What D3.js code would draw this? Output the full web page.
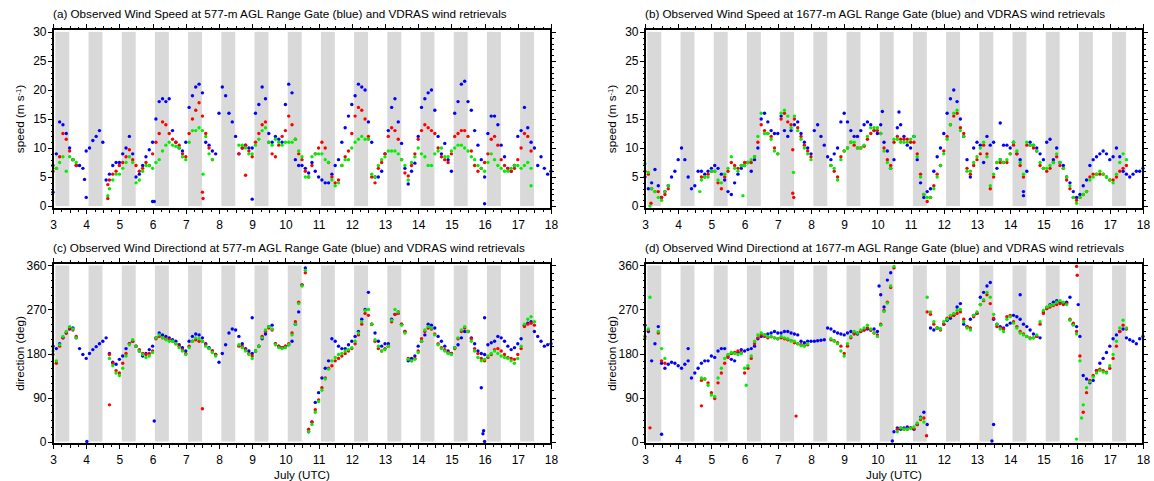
<!DOCTYPE html>
<meta charset="utf-8">
<style>

body {
  margin: 0;
  background: #fff;
}

svg {
  display: block;
  font-family: "Liberation Sans", Arial, sans-serif;
}

.axis path {
  display: none;
}

.axis line {
  stroke: #000;
  shape-rendering: crispEdges;
}

.axis text {
  font-size: 12px;
  fill: #000;
}

.frame {
  fill: none;
  stroke: #000;
  stroke-width: 1.2;
  shape-rendering: crispEdges;
}

.night {
  fill: #d9d9d9;
}

.title, .label {
  font-size: 11.7px;
  fill: #000;
}

</style>
<body>
<svg width="1154" height="481"></svg>

<script src="https://d3js.org/d3.v7.min.js"></script>
<script>

// time grid of the series: one value every 0.1 day from 3.0 to 18.0 July
var t0 = 3, dt = 0.1;

// night shading: fraction of each day that is shaded
var nightDays = [3, 4, 5, 6, 7, 8, 9, 10, 11, 12, 13, 14, 15, 16, 17];
var nightFrom = 0.07, nightTo = 0.49;

var dayTicks = [3, 4, 5, 6, 7, 8, 9, 10, 11, 12, 13, 14, 15, 16, 17, 18];
var speedTicks = [0, 5, 10, 15, 20, 25, 30];
var dirTicks = [0, 90, 180, 270, 360];

var _ = null;

// (a) speed at 577 m
var speedA_blue = [
  7, 9, 14.5, 14, 12.5, 10, 8, 7, 7, 6.5,
  9.5, 10, 11.3, 12, 13, 11, 4.5, 5.5, 7, 7.5,
  7.5, 9, 10, 12, 9, 5, 5.5, 7, 8.5, 9.7,
  11, 15, 18, 18.5, 18, 18.5, 13, 11, 10, 9.5,
  11, 17, 19, 20.5, 21, 19.5, 11, 10.5, 9.5, 9,
  16, 20.5, 19, 16, 14.5, 12, 9, 10, 10.5, 10,
  10, 16, 17.5, 20.5, 18.5, 12.5, 11, 12, 11.5, 11,
  17.5, 21, 19.5, 8, 7, 7, 6.5, 5.7, 7.5, 6,
  5, 4.5, 4, 4, 5.5, 7, 8, 11, 13.5, 15.5,
  17.5, 19, 21, 20.5, 20, 14.5, 11, 5, 5, 6,
  9, 13, 17, 18.5, 14.5, 10.8, 6.5, 3.8, 6, 7.4,
  12, 17, 18.5, 19.5, 20, 16.5, 12, 9, 10.8, 8,
  6, 16, 18, 21, 21.5, 18, 16.5, 13, 10.5, 8,
  5, 12.5, 15.5, 15.5, 14, 10.5, 8.5, 6.5, 6, 7,
  12, 13, 17, 13.5, 11, 10, 7, 8.5, 6.5, 5.5,
  6
];
var speedA_red = [
  6, 6.5, 8.5, 12.5, 11.5, 9.5, 8, 7, _, _,
  _, _, _, _, _, _, _, 4.5, 5.5, 6,
  7, 7.5, 8.5, 9.7, 8, 7, 6, 6.5, 7.5, 7,
  9, 11, 12.5, 14.5, 14, 12.5, 11.5, 11, 10.5, 9,
  8.5, 12.5, 15, 16.5, 17.8, 15.5, 12.5, 10, 8, _,
  _, _, _, _, _, _, 9, 10, 10.5, 9.5,
  8.5, 11, 12.5, 14, 14.5, 11, 9, 8.5, 10.5, 12,
  13, 15.5, 14, 11.5, 9, 8, 6, 5, 7, 9,
  10, 11, 10, 7.5, 5, 4, 4.5, 7, 8.5, 9.5,
  12.5, 15.5, 17, 16.5, 15, 12, 5, 4, 6.5, 7.5,
  9, 12, 13.5, 13, 11.5, 8, 5.7, 5.2, 7, 9,
  11.5, 13, 14, 13.5, 13, 12.5, 10, 8.5, 8, 7.5,
  9, 12, 12.5, 13, 13, 12, 9.5, 7, 6, 6.5,
  7.5, 9, 11.5, 12, 10.5, 8, 7, 6.5, 6, 6.5,
  8, 10, 12.5, 12, 9.5, _, _, _, _, _,
  _
];
var speedA_green = [
  7, 6.5, 7.5, 8.5, 6, 8.5, 8, 7.5, _, _,
  _, _, _, _, _, _, _, 3, 4.5, 5.5,
  5.5, 6.5, 7.5, 8.5, 7.5, 4, 4.5, 6, 7, 7,
  6.5, 7.5, 8, 9.5, 10.5, 11, 10.5, 10.3, 10, 8.5,
  8, 11, 13, 13, 13.5, 13, 12, 9, 8, _,
  _, _, _, _, _, _, 10.5, 10.5, 10, 9,
  9, 10.5, 11.5, 13, 13.5, 11, 10.5, 11.5, 11, 10.5,
  11, 11, 11, 11.5, 9.5, 8.5, 5, 5, 8.5, 9,
  9, 9, 8, 7.5, 4.5, 3.5, 4, 7, 8, 8,
  10, 11, 11.5, 12, 11.5, 11.5, 5.5, 5, 7, 8,
  8.5, 9.5, 9.5, 9.5, 9, 8, 7, 4.5, 7.5, 8.5,
  10, 9, 8.5, 7, 7, 9, 9.5, 10, 8.5, 8.5,
  9.5, 10, 10.5, 10.5, 10, 9.5, 8.5, 8, 7, 6.5,
  6, 7.5, 9, 8, 7, 6.5, 6, 6, 6.5, 7,
  7, 6.5, 7, 7.5, 6.5, _, _, _, _, _,
  _
];

// (b) speed at 1677 m
var speedB_blue = [
  5, 3, 4, 6.3, 3.5, 1.5, 2.5, 3.5, 5, 6,
  8, 10, 8, 5, 3, 3.5, 6, 6, 5.5, 6,
  6.5, 7, 6.5, 5.5, 4.5, 2.5, 2, 4, 5.5, 6.5,
  7, 7.5, 6, 8, 10, 15, 16, 14.5, 13, 12.5,
  12.5, 15.5, 13, 12, 13, 14, 14.5, 12.5, 11, 10,
  9, 13, 14, 12, 10.5, 8.5, 8, 9, 10, 14.5,
  16, 14.5, 13, 12, 12, 13, 14, 14.5, 14, 13,
  12.5, 14, 11, 9.5, 6.5, 8, 13.5, 14, 12, 10.5,
  10, 12, 8, 4, 1.5, 2.5, 3, 6, 8.5, 10,
  12.5, 16, 18.5, 20, 18, 15, 12, 8, 5, 10,
  11, 10.5, 7.5, 12, 10.5, 11, 6.5, 8, 10.5, 10.5,
  10, 11, 9, 8, 2.5, 6, 11, 10.5, 10, 9,
  8, 11, 11.5, 8, 10, 7.5, 7, 5, 4, 2.5,
  1.5, 2, 3.5, 4.5, 7, 8, 8.5, 9, 9.5, 9,
  8, 8.5, 10, 8.5, 6, 5.5, 5, 5.5, 6, 6,
  6.5
];
var speedB_red = [
  6, 5.5, 3, 2.5, 2.5, 1.5, 2, 3, _, _,
  _, _, _, _, _, _, _, 5, 5, 5.5,
  6, 6, 4, 3, 5, 6, 7.5, 7, 6.5, 7,
  7.5, 7.5, 7.5, 8.5, 11, 14, 13, 12.5, 12, 10,
  9, 15, 16, 14.5, 14, 15, 13.5, 12, 10.5, 9.5,
  8.5, _, _, _, _, _, 7, 6, 5, 8.5,
  9.5, 10, 11, 10.5, 10, 10, 10.3, 11.5, 12.5, 13,
  13, 12.5, 10, 8, 7, 11, 12, 11.5, 11.5, 11.5,
  11, 11, 9, 5.5, 2, 0.8, 1.5, 3.5, 5.5, 7,
  9.5, 12, 14, 15.5, 16, 13.5, 12.5, 6.5, 5.5, 7,
  8, 9, 10.5, 9, 3, 5, 7.5, 7.5, 7.5, 7.5,
  9, 10.5, 9, 7, 5, 10.5, 10.5, 10, 9.5, 7,
  6.5, 6, 6.5, 7.5, 8.5, 7, 6.5, 4.5, 3, 1.5,
  1, 1.5, 2, 2.5, 5, 5.5, 5.5, 5.5, 5.5, 5,
  4.5, 4.5, 5, 6, 6.5, 7, _, _, _, _,
  _
];
var speedB_green = [
  7.3, 5.8, 3, 2.5, 1.5, 1, 2.5, 3.5, _, _,
  _, _, _, _, _, _, _, 4.5, 5, 5,
  6, 6, 4.5, 4, 5.5, 6.5, 8.5, 6.5, 6, 7,
  7, 7.5, 8, 8.5, 12, 16, 12.5, 12.5, 11.5, 9.5,
  9, 16, 16.5, 15.5, 13.5, 15.5, 13, 11.5, 10, 9,
  8, _, _, _, _, _, 7, 6.5, 4.5, 8,
  9.5, 10, 11, 11, 10, 10, 10.5, 12, 13.5, 13.5,
  13.5, 12.5, 9.5, 7.5, 6.5, 11.5, 11.5, 11, 11, 11,
  11.5, 12, 8.5, 5, 2, 1.5, 1.5, 3, 5, 7,
  9, 11.5, 14, 16, 16.5, 13, 12, 6, 6, 7.5,
  8.5, 10, 11, 8.5, 3.5, 5.5, 7.5, 8, 7.5, 8,
  9, 11, 9.5, 7.5, 5.5, 11, 10.5, 10.5, 9.5, 7.5,
  6.5, 6.5, 7, 7.5, 9, 7.5, 6.5, 5, 3.5, 1.5,
  0.5, 1.5, 2, 2.5, 4.5, 5, 5.5, 6, 5.5, 5,
  4.5, 4, 5.5, 7.5, 9, 8, _, _, _, _,
  _
];

// (c) direction at 577 m
var dirC_blue = [
  195, 190, 200, 212, 222, 230, 232, 212, 190, 178,
  170, 180, 188, 194, 200, 205, 212, 180, 162, 158,
  168, 175, 190, 200, 205, 195, 185, 175, 180, 188,
  195, 212, 222, 218, 215, 212, 208, 205, 198, 192,
  185, 205, 215, 220, 218, 212, 200, 192, 185, 178,
  162, 180, 198, 222, 230, 228, 215, 200, 190, 185,
  180, 185, 195, 210, 220, 235, 238, 200, 195, 192,
  195, 198, 205, 240, 265, 320, 355, 20, 40, 80,
  100, 130, 150, 165, 210, 205, 195, 190, 190, 198,
  205, 215, 225, 250, 270, 305, 240, 222, 205, 195,
  200, 200, 250, 260, 265, 240, 225, 165, 170, 175,
  195, 205, 218, 240, 238, 232, 215, 205, 195, 185,
  180, 192, 198, 212, 225, 225, 212, 200, 185, 180,
  178, 198, 202, 205, 215, 212, 205, 195, 188, 192,
  200, 210, 238, 242, 245, 225, 215, 205, 195, 198,
  200
];
var dirC_red = [
  178, 160, 195, 212, 222, 232, 228, 215, _, _,
  _, _, _, _, _, _, _, 178, 160, 145,
  140, 160, 180, 200, 205, 195, 188, 180, 178, 180,
  185, 210, 215, 212, 210, 208, 205, 200, 195, 188,
  180, 195, 205, 208, 205, 205, 198, 190, 185, 178,
  _, _, _, _, _, _, 195, 195, 188, 180,
  175, 185, 195, 215, 225, 232, 228, 200, 195, 192,
  195, 200, 222, 245, 285, 320, 345, 25, 40, 65,
  85, 110, 130, 150, 155, 165, 170, 175, 180, 185,
  190, 200, 218, 240, 262, 258, 240, 205, 190, 185,
  190, 195, 245, 260, 262, 240, 225, 170, 165, 170,
  185, 210, 225, 232, 230, 220, 200, 192, 188, 182,
  180, 190, 210, 225, 232, 225, 210, 190, 180, 170,
  165, 172, 178, 188, 190, 185, 178, 172, 170, 168,
  178, 190, 235, 240, 242, 238, _, _, _, _,
  _
];
var dirC_green = [
  185, 165, 198, 215, 225, 235, 230, 212, _, _,
  _, _, _, _, _, _, _, 170, 155, 140,
  135, 150, 175, 198, 208, 195, 185, 178, 172, 175,
  182, 212, 218, 212, 208, 205, 205, 200, 192, 185,
  178, 192, 205, 212, 210, 205, 195, 190, 182, 175,
  _, _, _, _, _, _, 198, 192, 185, 178,
  170, 185, 195, 212, 228, 235, 230, 198, 192, 190,
  192, 198, 218, 240, 282, 318, 350, 20, 35, 60,
  82, 105, 128, 148, 165, 172, 178, 180, 185, 188,
  192, 205, 222, 245, 268, 270, 240, 208, 195, 185,
  188, 195, 248, 270, 265, 238, 222, 168, 165, 168,
  182, 205, 228, 235, 232, 218, 198, 190, 185, 180,
  178, 192, 212, 228, 235, 225, 205, 185, 172, 165,
  168, 175, 180, 185, 180, 175, 172, 170, 165, 160,
  170, 195, 240, 250, 255, 245, _, _, _, _,
  _
];

// (d) direction at 1677 m
var dirD_blue = [
  238, 225, 165, 200, 235, 160, 150, 158, 162, 160,
  155, 150, 158, 165, 130, 140, 150, 160, 165, 165,
  175, 172, 185, 190, 190, 175, 168, 165, 182, 188,
  185, 188, 190, 195, 210, 215, 218, 220, 222, 225,
  222, 222, 225, 225, 222, 220, 218, 205, 202, 205,
  205, 205, 206, 207, 208, 232, 230, 225, 222, 220,
  218, 222, 225, 222, 220, 225, 228, 230, 228, 230,
  225, 300, 275, 330, 345, 20, 28, 25, 28, 30,
  28, 25, 35, 50, 60, 35, 232, 228, 232, 230,
  240, 248, 252, 258, 275, 282, 240, 235, 250, 258,
  262, 295, 305, 318, 325, 250, 240, 235, 232, 238,
  242, 258, 255, 250, 240, 235, 228, 220, 215, 212,
  265, 272, 280, 285, 288, 285, 282, 285, 295, 240,
  235, 215, 135, 128, 120, 125, 145, 160, 170, 182,
  195, 210, 218, 225, 230, 212, 208, 205, 200, 210,
  215
];
var dirD_red = [
  215, 228, _, _, 222, 165, 160, _, _, _,
  _, _, _, _, _, _, _, 125, 128, 120,
  100, 88, 120, 140, 160, 172, 180, 182, 185, 182,
  140, 150, 170, 200, 212, 218, 215, 212, 214, 212,
  210, 212, 210, 208, 206, 202, 200, 198, 196, 198,
  _, _, _, _, _, _, 208, 206, 202, 195,
  180, 195, 212, 220, 222, 225, 228, 232, 228, 222,
  218, 240, 268, 285, 315, 355, 25, 28, 25, 25,
  28, 26, 35, 45, 48, 265, 260, 240, 232, 228,
  240, 252, 255, 258, 262, 265, 250, 235, 232, 255,
  262, 280, 288, 300, 282, 252, 235, 232, 230, 255,
  258, 245, 235, 225, 220, 215, 212, 212, 215, 240,
  262, 272, 275, 278, 280, 282, 280, 282, 250, 242,
  225, 175, 60, 100, 125, 135, 145, 148, 145, 142,
  150, 170, 195, 225, 238, 230, _, _, _, _,
  _
];
var dirD_green = [
  210, 230, _, _, 225, 190, 170, _, _, _,
  _, _, _, _, _, _, _, 130, 128, 115,
  95, 92, 130, 150, 170, 178, 182, 180, 178, 180,
  150, 155, 175, 205, 218, 222, 218, 215, 215, 212,
  210, 215, 212, 210, 206, 205, 200, 196, 195, 200,
  _, _, _, _, _, _, 210, 205, 200, 185,
  175, 200, 215, 225, 222, 228, 232, 238, 230, 222,
  215, 238, 266, 283, 318, 358, 20, 28, 25, 25,
  27, 30, 38, 48, 40, 295, 265, 245, 232, 230,
  245, 250, 258, 262, 268, 270, 245, 232, 228, 258,
  265, 280, 290, 305, 295, 260, 240, 230, 225, 250,
  255, 242, 232, 222, 218, 215, 210, 212, 218, 245,
  268, 275, 278, 280, 285, 288, 285, 280, 248, 238,
  220, 165, 75, 110, 122, 132, 140, 145, 142, 140,
  155, 178, 205, 232, 248, 232, _, _, _, _,
  _
];

// isolated points off the main curves: [day, value]
var extraA_blue = [[3.0, 2.4], [3.95, 4.6], [4.0, 1.5], [6.0, 0.8], [6.05, 0.8], [9.0, 1.2], [16.0, 0.4]];
var extraA_red = [[4.65, 1.3], [4.65, 3.7], [7.5, 2.4], [7.52, 1.3], [8.8, 5.3]];
var extraA_green = [[4.65, 1.8], [7.52, 5.5], [17.4, 3.5]];
var extraB_blue = [[13.7, 14.3], [10.15, 16.3], [10.65, 16.2], [14.4, 1.8]];
var extraB_red = [[3.18, 0.5], [7.45, 2.2], [7.48, 1.5], [7.45, 9.7]];
var extraB_green = [[3.15, 0], [4.65, 2.5], [5.95, 1.8], [7.47, 5.8]];
var extraC_blue = [[4.02, 0], [6.05, 42], [9.0, 253], [15.9, 110], [15.95, 16], [15.97, 22], [16.0, 0], [16.0, 253]];
var extraC_red = [[4.7, 75], [7.5, 67]];
var extraC_green = [];
var extraD_blue = [[3.5, 15], [4.3, 190], [10.45, 1], [13.45, 1], [13.5, 35], [14.3, 300], [16.05, 280], [10.05, 318]];
var extraD_red = [[3.15, 28], [4.7, 73], [7.55, 52], [16.0, 358], [16.02, 340], [11.48, 12]];
var extraD_green = [[3.15, 295], [6.05, 115], [16.0, 5], [16.15, 48]];

var colors = {blue: "#0000ff", red: "#ff0000", green: "#00f000"};

var svg = d3.select("svg"),
    plotW = 498,
    colX = [53, 645];

var rows = [
  {top: 29, bottom: 209, domain: [-0.5, 30.5], max: 30, major: speedTicks, minorStep: 1, ytitle: "speed"},
  {top: 263, bottom: 444, domain: [-5, 365], max: 360, major: dirTicks, minorStep: 15, ytitle: "direction (deg)"}
];

var panels = [
  {row: 0, col: 0, title: "(a) Observed Wind Speed at 577-m AGL Range Gate (blue) and VDRAS wind retrievals",
   blue: speedA_blue, red: speedA_red, green: speedA_green, extra: {blue: extraA_blue, red: extraA_red, green: extraA_green}},
  {row: 0, col: 1, title: "(b) Observed Wind Speed at 1677-m AGL Range Gate (blue) and VDRAS wind retrievals",
   blue: speedB_blue, red: speedB_red, green: speedB_green, extra: {blue: extraB_blue, red: extraB_red, green: extraB_green}},
  {row: 1, col: 0, title: "(c) Observed Wind Directiond at 577-m AGL Range Gate (blue) and VDRAS wind retrievals",
   blue: dirC_blue, red: dirC_red, green: dirC_green, extra: {blue: extraC_blue, red: extraC_red, green: extraC_green}},
  {row: 1, col: 1, title: "(d) Observed Wind Directiond at 1677-m AGL Range Gate (blue) and VDRAS wind retrievals",
   blue: dirD_blue, red: dirD_red, green: dirD_green, extra: {blue: extraD_blue, red: extraD_red, green: extraD_green}}
];

function toPoints(vals, extra) {
  var pts = [];
  vals.forEach(function(v, i) {
    if (v != null) pts.push([t0 + i * dt, v]);
  });
  return pts.concat(extra);
}

panels.forEach(function(p) {
  var r = rows[p.row],
      x0 = colX[p.col];

  var x = d3.scaleLinear().domain([3, 18]).range([x0, x0 + plotW]);
  var y = d3.scaleLinear().domain(r.domain).range([r.bottom, r.top]);

  var g = svg.append("g");

  // night shading
  g.selectAll("rect.night")
    .data(nightDays)
    .join("rect")
      .attr("class", "night")
      .attr("x", function(d) { return x(d + nightFrom); })
      .attr("width", function(d) { return x(d + nightTo) - x(d + nightFrom); })
      .attr("y", y(r.max))
      .attr("height", y(0) - y(r.max));

  // observations first, then the two retrievals
  ["blue", "red", "green"].forEach(function(c) {
    g.append("g")
      .attr("fill", colors[c])
      .selectAll("circle")
      .data(toPoints(p[c], p.extra[c]))
      .join("circle")
        .attr("cx", function(d) { return x(d[0]); })
        .attr("cy", function(d) { return y(d[1]); })
        .attr("r", 1.7);
  });

  g.append("rect")
    .attr("class", "frame")
    .attr("x", x0)
    .attr("y", r.top)
    .attr("width", plotW)
    .attr("height", r.bottom - r.top);

  // x axes, bottom and top
  var halfDays = dayTicks.slice(0, -1).map(function(d) { return d + 0.5; });
  var quarterDays = dayTicks.slice(0, -1).reduce(function(a, d) { return a.concat([d + 0.25, d + 0.75]); }, []);

  [[d3.axisBottom, r.bottom, true], [d3.axisTop, r.top, false]].forEach(function(a) {
    var mk = a[0], yy = a[1], labels = a[2];
    g.append("g").attr("class", "axis").attr("transform", "translate(0," + yy + ")")
      .call(mk(x).tickValues(dayTicks).tickSize(5).tickSizeOuter(0).tickPadding(6)
        .tickFormat(labels ? d3.format("d") : ""));
    g.append("g").attr("class", "axis").attr("transform", "translate(0," + yy + ")")
      .call(mk(x).tickValues(halfDays).tickSize(3.5).tickSizeOuter(0).tickFormat(""));
    g.append("g").attr("class", "axis").attr("transform", "translate(0," + yy + ")")
      .call(mk(x).tickValues(quarterDays).tickSize(2.5).tickSizeOuter(0).tickFormat(""));
  });

  // y axes, left and right
  var yMinor = d3.range(0, r.max + 1, r.minorStep).filter(function(v) { return r.major.indexOf(v) < 0; });
  [[d3.axisLeft, x0, true], [d3.axisRight, x0 + plotW, false]].forEach(function(a) {
    var mk = a[0], xx = a[1], labels = a[2];
    g.append("g").attr("class", "axis").attr("transform", "translate(" + xx + ",0)")
      .call(mk(y).tickValues(r.major).tickSize(5).tickSizeOuter(0).tickPadding(1.5)
        .tickFormat(labels ? d3.format("d") : ""));
    g.append("g").attr("class", "axis").attr("transform", "translate(" + xx + ",0)")
      .call(mk(y).tickValues(yMinor).tickSize(2.5).tickSizeOuter(0).tickFormat(""));
  });

  // panel title
  g.append("text")
    .attr("class", "title")
    .attr("x", x0)
    .attr("y", r.top - 11)
    .text(p.title);

  // y title
  var yt = g.append("text")
    .attr("class", "label")
    .attr("text-anchor", "middle")
    .attr("transform", "translate(" + (x0 - 29) + "," + ((r.top + r.bottom) / 2) + ") rotate(-90)");
  if (p.row === 0) {
    yt.append("tspan").text("speed (m s");
    yt.append("tspan").attr("font-size", "7.5px").attr("dy", "-0.45em").text("-1");
    yt.append("tspan").attr("dy", "0.3em").text(")");
  } else {
    yt.text(r.ytitle);
  }

  // x title
  if (p.row === 1) {
    g.append("text")
      .attr("class", "label")
      .attr("text-anchor", "middle")
      .attr("x", x0 + plotW / 2)
      .attr("y", 478.5)
      .text("July (UTC)");
  }
});

</script>
